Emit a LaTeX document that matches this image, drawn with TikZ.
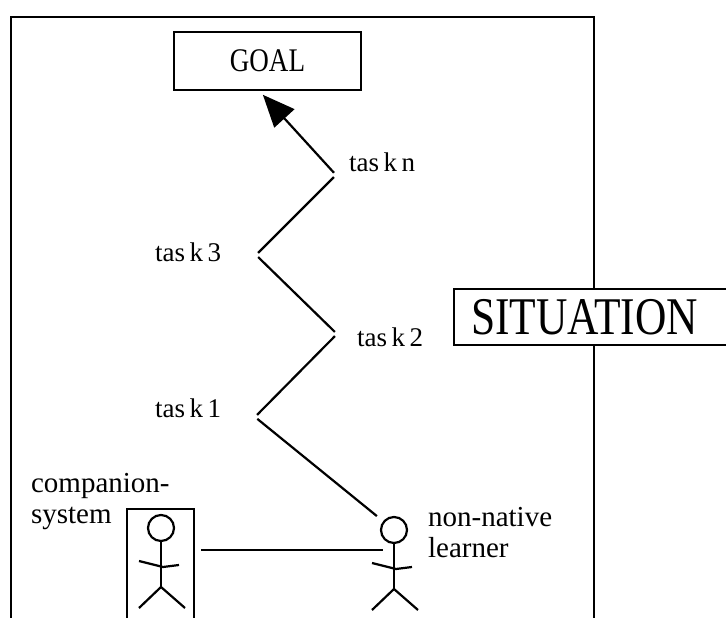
\documentclass[tikz,border=0pt]{standalone}
\usepackage{fontspec}
\setmainfont{Liberation Serif}
\newfontfamily\narrowfont[FakeStretch=0.82]{Liberation Serif}
\usetikzlibrary{arrows.meta}
\tikzstyle{every node}=[inner sep=0pt]
\tikzstyle{box}=[draw=black,fill=white,line width=2.2pt]
\tikzstyle{tasklabel}=[anchor=base west,font=\fontsize{27}{27}\selectfont]
\tikzstyle{actor}=[anchor=base west,align=left,font=\fontsize{29}{30.5}\selectfont]
\tikzset{stickman/.pic={
	\node[draw,circle,minimum size=26pt] (-head) at (0,0) {};
	\draw (0,13) -- (0,59);
	\draw (-22,33) -- (2,39) -- (18,37);
	\draw (-22,80) -- (0,59) -- (24,80);
	\coordinate (-hand) at (-11,20);
}}

\begin{document}
\begin{tikzpicture}[x=1pt, y=-1pt, line width=2.2pt]
	\useasboundingbox (0,0) rectangle (726,618);
	\clip (0,0) rectangle (726,618);
	% situation frame
	\draw (11,625) -- (11,17) -- (594,17) -- (594,625);
	\node[box,anchor=west,minimum height=56pt,text width=280pt,inner xsep=17pt,align=left,
		font=\narrowfont\fontsize{53}{53}\selectfont] (situation) at (453,317) {SITUATION};
	\node[box,minimum width=187pt,minimum height=58pt,
		font=\narrowfont\fontsize{33}{33}\selectfont] (goal) at (267.5,61) {GOAL};
	% task path
	\coordinate (tn) at (336,175);
	\coordinate (t3) at (256,255);
	\coordinate (t2) at (337,334);
	\coordinate (t1) at (255,417);
	\node[tasklabel] (taskn) at (348,171) {tas\,k\,n};
	\node[tasklabel] (task3) at (154,261) {tas\,k\,3};
	\node[tasklabel] (task2) at (356,346) {tas\,k\,2};
	\node[tasklabel] (task1) at (154,417) {tas\,k\,1};
	% actors
	\node[draw,line width=2.2pt,anchor=north west,minimum width=67pt,minimum height=130pt] (cbox) at (126,508) {};
	\pic (companion) at (161,528) {stickman};
	\pic (learner) at (394,530) {stickman};
	\node[actor] (ctext) at (30,523) {companion-\\system};
	\node[actor] (ltext) at (427,557) {non-native\\learner};
	% connectors
	\draw[-{Triangle[length=32pt,width=27pt]},shorten <=3pt,shorten >=5pt] (tn) -- ([xshift=-8pt]goal.south);
	\draw[shorten <=3pt,shorten >=3pt] (tn) -- (t3);
	\draw[shorten <=3pt,shorten >=3pt] (t3) -- (t2);
	\draw[shorten <=3pt,shorten >=3pt] (t2) -- (t1);
	\draw[shorten <=3pt,shorten >=8pt] (t1) -- (learner-head);
	\draw[shorten <=6pt] (cbox.east |- learner-hand) -- (learner-hand);
\end{tikzpicture}
\end{document}
